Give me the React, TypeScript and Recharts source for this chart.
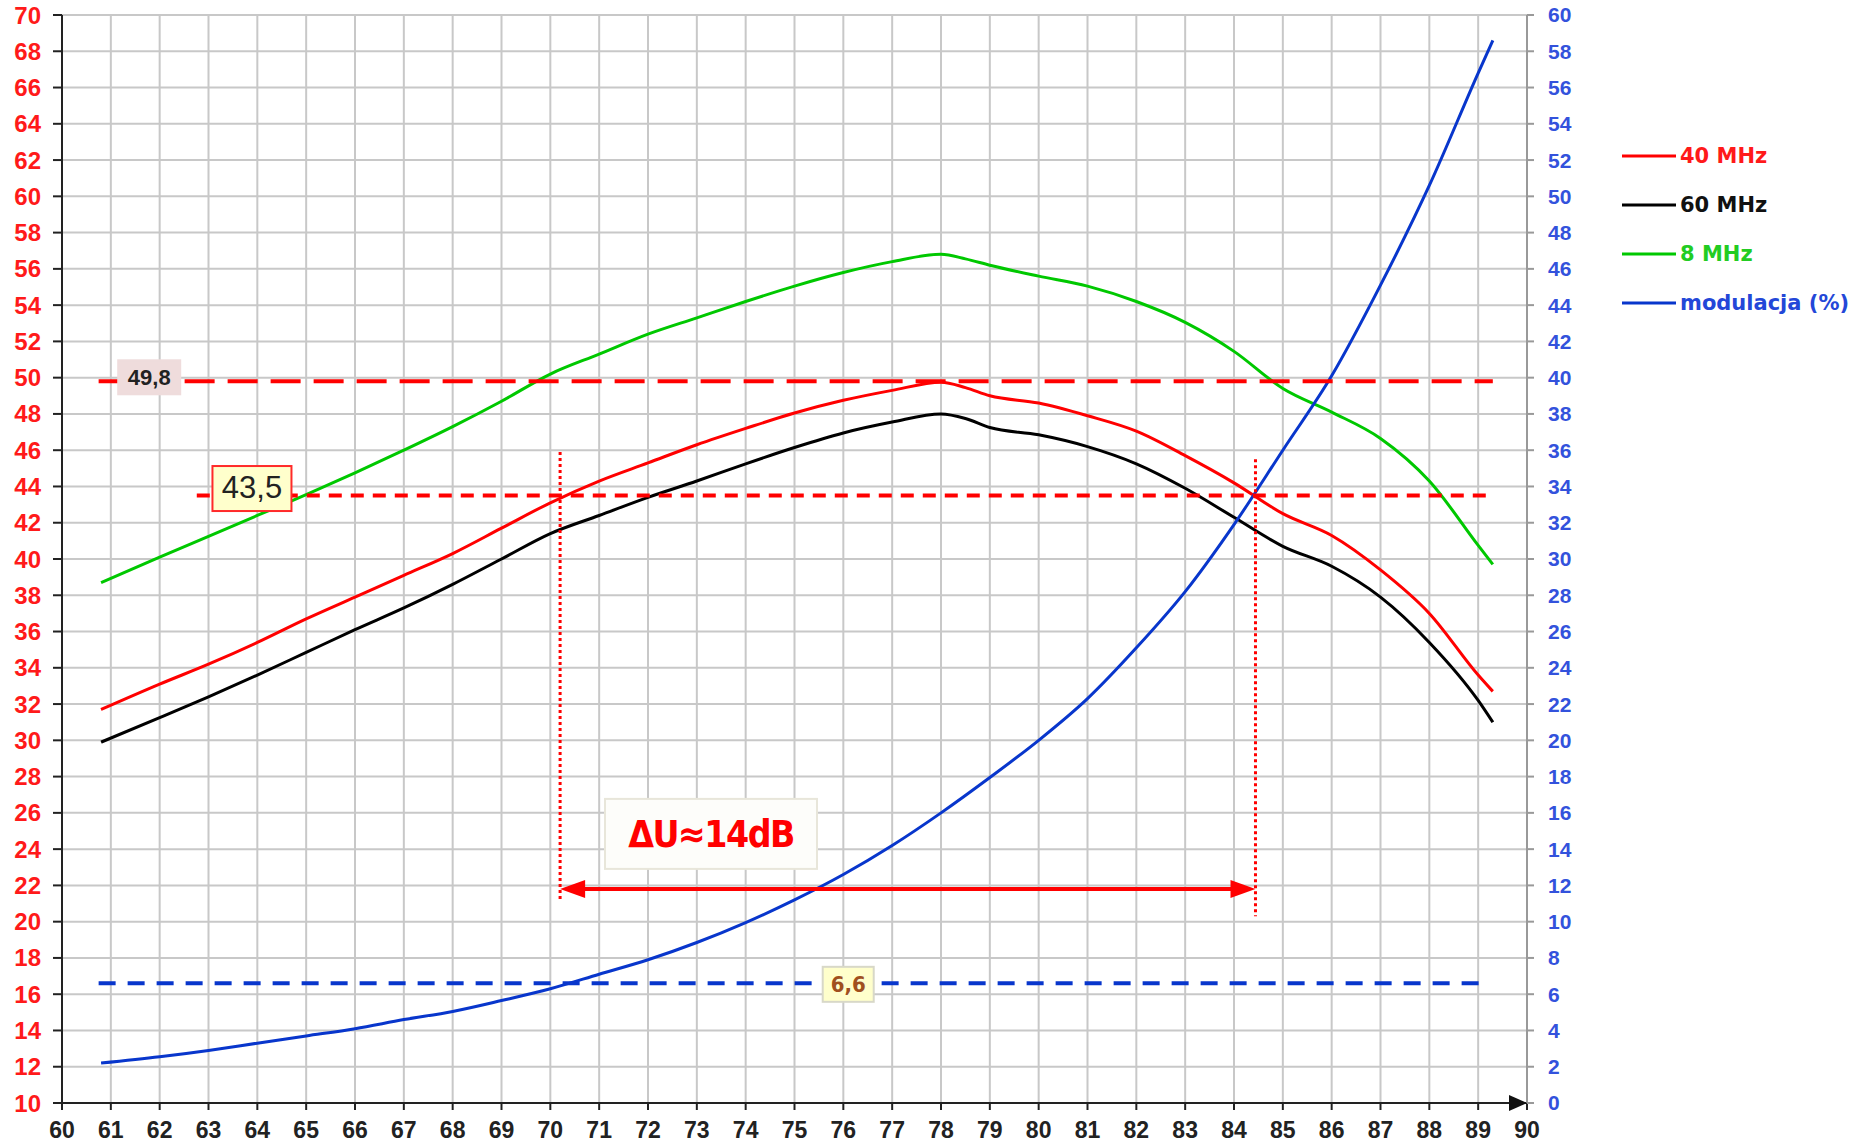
import React from "react";
import {
  ComposedChart,
  Line,
  XAxis,
  YAxis,
  CartesianGrid,
  ReferenceLine,
  ReferenceDot,
  Legend,
} from "recharts";

// frequency points shared by the three level curves
const freqs = [60.8, 62, 63, 64, 65, 66, 67, 68, 69, 70, 71, 72, 73, 74, 75, 76, 77, 78, 78.5, 79, 80, 81, 82, 83, 84, 85, 86, 87, 88, 89, 89.3];
const level40 = [31.7, 33.1, 34.2, 35.4, 36.7, 37.9, 39.1, 40.3, 41.7, 43.1, 44.3, 45.3, 46.3, 47.2, 48.05, 48.75, 49.3, 49.75, 49.45, 49.0, 48.6, 47.9, 47.05, 45.7, 44.2, 42.5, 41.3, 39.4, 37.0, 33.6, 32.7];
const level60 = [29.9, 31.25, 32.4, 33.6, 34.85, 36.1, 37.3, 38.6, 40.0, 41.4, 42.4, 43.4, 44.3, 45.25, 46.15, 46.95, 47.55, 48.0, 47.75, 47.25, 46.85, 46.2, 45.25, 43.9, 42.3, 40.7, 39.6, 37.9, 35.4, 32.2, 31.0];
const level8 = [38.7, 40.1, 41.25, 42.4, 43.55, 44.75, 46.0, 47.3, 48.7, 50.2, 51.3, 52.4, 53.3, 54.2, 55.05, 55.8, 56.4, 56.8, 56.55, 56.2, 55.6, 55.05, 54.2, 53.05, 51.45, 49.4, 48.1, 46.65, 44.3, 40.75, 39.7];

// modulation curve (right axis, %)
const modFreqs = [60.8, 62, 63, 64, 65, 66, 67, 68, 69, 70, 71, 72, 73, 74, 75, 76, 77, 78, 79, 80, 81, 82, 83, 84, 85, 86, 87, 88, 89, 89.3];
const modulation = [2.2, 2.55, 2.9, 3.3, 3.7, 4.1, 4.6, 5.05, 5.65, 6.3, 7.1, 7.9, 8.85, 9.95, 11.2, 12.6, 14.2, 16.0, 17.95, 20.0, 22.3, 25.1, 28.2, 31.9, 36.0, 40.1, 45.1, 50.6, 56.8, 58.6];

const xTicks = Array.from({ length: 31 }, (_, i) => 60 + i);
const leftTicks = Array.from({ length: 31 }, (_, i) => 10 + i * 2);
const rightTicks = Array.from({ length: 31 }, (_, i) => i * 2);

// annotation values
const peakLevel = 49.8;
const cutLevel = 43.5;
const modLimit = 6.6;
const bandStart = 70.2;
const bandEnd = 84.44;
const arrowLevel = 21.8;

const rows = (xs: number[], ys: number[]) => xs.map((f, i) => ({ f, v: ys[i] }));

const legendText: Record<string, string> = {
  "40 MHz": "#ff1a1a",
  "60 MHz": "#111111",
  "8 MHz": "#22cc22",
  "modulacja (%)": "#2347d8",
};

const renderLegend = (props: any) => (
  <div>
    {(props.payload || []).map((e: any) => (
      <div key={e.value} style={{ display: "flex", alignItems: "center", height: 49 }}>
        <svg width={54} height={6}>
          <line x1={0} y1={3} x2={54} y2={3} stroke={e.color} strokeWidth={3} />
        </svg>
        <span style={{ marginLeft: 4, color: legendText[e.value], fontFamily: "'DejaVu Sans', sans-serif", fontWeight: 700, fontSize: 21 }}>
          {e.value}
        </span>
      </div>
    ))}
  </div>
);

const boxLabel = (text: string, w: number, h: number, dy: number, fill: string, border: string, textStyle: any, textDy: number) =>
  (p: any) => (
    <g>
      <rect x={p.cx - w / 2} y={p.cy - h / 2 + dy} width={w} height={h} fill={fill} stroke={border} strokeWidth={2} />
      <text x={p.cx} y={p.cy + textDy} textAnchor="middle" dominantBaseline="central" style={textStyle}>
        {text}
      </text>
    </g>
  );

const arrowHead = (dir: number, len: number, half: number, color: string) => (p: any) => (
  <polygon points={`${p.cx},${p.cy} ${p.cx - dir * len},${p.cy - half} ${p.cx - dir * len},${p.cy + half}`} fill={color} />
);

export default function App() {
  const tickFont = { fontFamily: "'Liberation Sans', Arial, sans-serif", fontWeight: 700 };
  const narrow = "'Liberation Sans Narrow', 'DejaVu Sans Condensed', Arial, sans-serif";
  return (
    <div style={{ position: "absolute", left: 0, top: 0, width: 1873, height: 1143, background: "#fff" }}>
      <ComposedChart width={1873} height={1143} margin={{ top: 15, right: 286, bottom: 0, left: 0 }}>
        <CartesianGrid yAxisId="left" stroke="#c8c8c8" strokeWidth={2} />
        <XAxis
          type="number"
          dataKey="f"
          domain={[60, 90]}
          ticks={xTicks}
          interval={0}
          allowDataOverflow
          height={40}
          tickSize={7}
          tickMargin={12}
          axisLine={{ stroke: "#222", strokeWidth: 2 }}
          tickLine={{ stroke: "#222", strokeWidth: 2 }}
          tick={{ ...tickFont, fill: "#222", fontSize: 23 }}
        />
        <YAxis
          yAxisId="left"
          domain={[10, 70]}
          ticks={leftTicks}
          interval={0}
          allowDataOverflow
          width={62}
          tickSize={9}
          tickMargin={12}
          axisLine={{ stroke: "#222", strokeWidth: 2 }}
          tickLine={{ stroke: "#222", strokeWidth: 2 }}
          tick={{ ...tickFont, fill: "#ff1a1a", fontSize: 24 }}
        />
        <YAxis
          yAxisId="right"
          orientation="right"
          domain={[0, 60]}
          ticks={rightTicks}
          interval={0}
          allowDataOverflow
          width={60}
          tickSize={7}
          tickMargin={14}
          axisLine={{ stroke: "#999", strokeWidth: 2 }}
          tickLine={{ stroke: "#999", strokeWidth: 2 }}
          tick={{ ...tickFont, fill: "#3352dc", fontSize: 21 }}
        />
        <Legend layout="vertical" align="center" verticalAlign="middle" wrapperStyle={{ left: 1622, top: 131, width: 250, height: 200 }} content={renderLegend} />

        <Line data={rows(freqs, level40)} dataKey="v" yAxisId="left" name="40 MHz" type="monotone" stroke="#ff0000" strokeWidth={3} dot={false} activeDot={false} isAnimationActive={false} />
        <Line data={rows(freqs, level60)} dataKey="v" yAxisId="left" name="60 MHz" type="monotone" stroke="#000000" strokeWidth={3} dot={false} activeDot={false} isAnimationActive={false} />
        <Line data={rows(freqs, level8)} dataKey="v" yAxisId="left" name="8 MHz" type="monotone" stroke="#00c800" strokeWidth={3} dot={false} activeDot={false} isAnimationActive={false} />
        <Line data={rows(modFreqs, modulation)} dataKey="v" yAxisId="right" name="modulacja (%)" type="monotone" stroke="#0836cc" strokeWidth={3} dot={false} activeDot={false} isAnimationActive={false} />

        <ReferenceLine yAxisId="left" segment={[{ x: 60.75, y: peakLevel }, { x: 89.3, y: peakLevel }]} stroke="#ff0000" strokeWidth={4} strokeDasharray="30 13" ifOverflow="visible" />
        <ReferenceLine yAxisId="left" segment={[{ x: 62.76, y: cutLevel }, { x: 89.3, y: cutLevel }]} stroke="#ff0000" strokeWidth={4} strokeDasharray="13 9" ifOverflow="visible" />
        <ReferenceLine yAxisId="right" segment={[{ x: 60.75, y: modLimit }, { x: 89.16, y: modLimit }]} stroke="#0836cc" strokeWidth={4} strokeDasharray="17 12" ifOverflow="visible" />
        <ReferenceLine yAxisId="left" segment={[{ x: bandStart, y: 45.9 }, { x: bandStart, y: 21.1 }]} stroke="#ff0000" strokeWidth={3} strokeDasharray="3 3" ifOverflow="visible" />
        <ReferenceLine yAxisId="left" segment={[{ x: bandEnd, y: 45.5 }, { x: bandEnd, y: 20.3 }]} stroke="#ff0000" strokeWidth={3} strokeDasharray="3 3" ifOverflow="visible" />
        <ReferenceLine yAxisId="left" segment={[{ x: bandStart + 0.3, y: arrowLevel }, { x: bandEnd - 0.3, y: arrowLevel }]} stroke="#ff0000" strokeWidth={4} ifOverflow="visible" />
        <ReferenceDot yAxisId="left" x={bandStart} y={arrowLevel} r={0} ifOverflow="visible" shape={arrowHead(-1, 25, 9, "#ff0000")} />
        <ReferenceDot yAxisId="left" x={bandEnd} y={arrowLevel} r={0} ifOverflow="visible" shape={arrowHead(1, 25, 9, "#ff0000")} />
        <ReferenceDot yAxisId="left" x={90} y={10} r={0} ifOverflow="visible" shape={arrowHead(1, 18, 8, "#111")} />

        <ReferenceDot
          yAxisId="left" x={61.786} y={peakLevel} r={0} ifOverflow="visible"
          shape={boxLabel("49,8", 62, 34, -4, "#efdcdc", "#efdcdc", { ...tickFont, fill: "#222", fontSize: 22 }, -4)}
        />
        <ReferenceDot
          yAxisId="left" x={63.89} y={cutLevel} r={0} ifOverflow="visible"
          shape={boxLabel("43,5", 79, 45, -7, "#ffffcc", "#ff2a2a", { fontFamily: "'Liberation Sans', Arial, sans-serif", fill: "#222", fontSize: 31 }, -8)}
        />
        <ReferenceDot
          yAxisId="right" x={76.1} y={modLimit} r={0} ifOverflow="visible"
          shape={boxLabel("6,6", 51, 35, 1, "#ffffcc", "#d8d8c8", { fontFamily: narrow, fontWeight: 700, fill: "#a0501e", fontSize: 22 }, 1)}
        />
        <ReferenceDot
          yAxisId="left" x={73.29} y={24.84} r={0} ifOverflow="visible"
          shape={boxLabel("ΔU≈14dB", 212, 70, 0, "#fdfdfa", "#e8e6da", { fontFamily: narrow, fontWeight: 700, fill: "#ff0000", fontSize: 37, letterSpacing: -1.5 }, 1)}
        />
      </ComposedChart>
    </div>
  );
}
